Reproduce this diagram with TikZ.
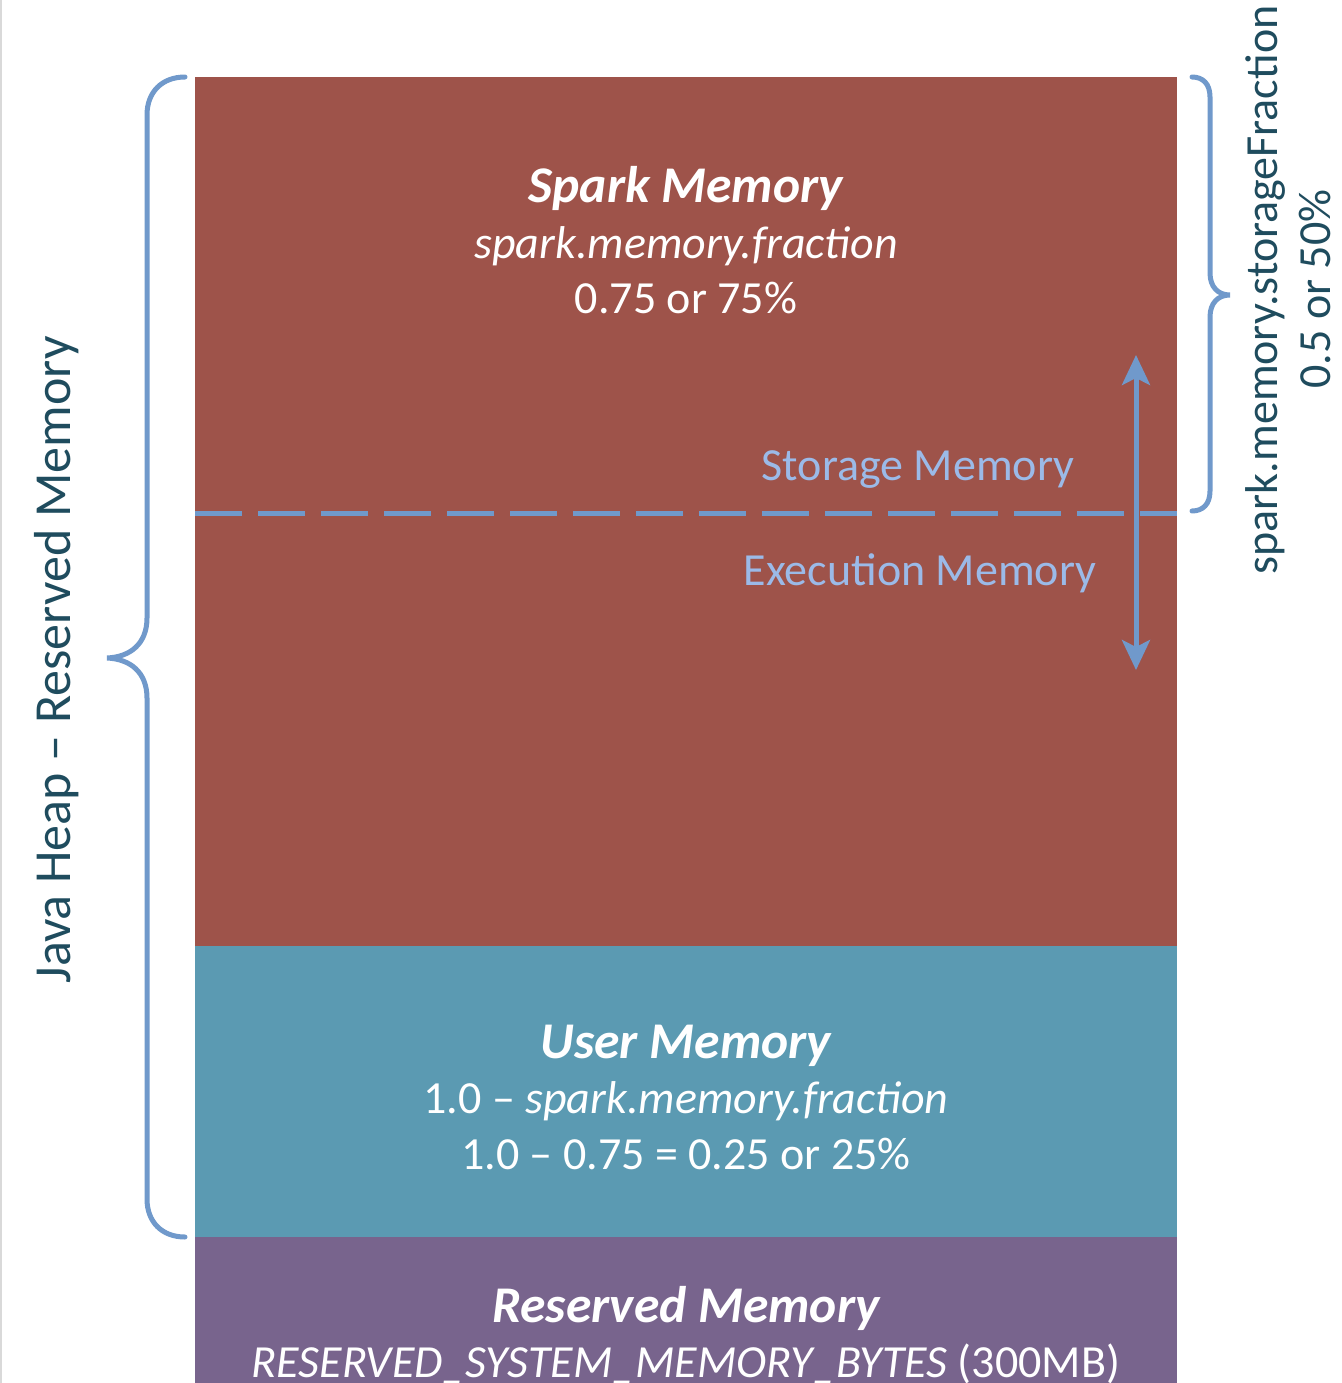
\documentclass[tikz,border=0pt]{standalone}
\usepackage{fontspec}
\setmainfont{Carlito}
\usetikzlibrary{arrows.meta}
\definecolor{sparkred}{HTML}{9E534A}
\definecolor{userteal}{HTML}{5B9AB2}
\definecolor{respurple}{HTML}{78648D}
\definecolor{bracecol}{HTML}{7099CB}
\definecolor{lighttext}{HTML}{9BBAE8}
\definecolor{darktext}{HTML}{1F4C5E}
\tikzset{
  block/.style={draw=none, minimum width=982pt, anchor=north west, inner sep=0pt, outer sep=0pt},
  wtext/.style={text=white, font=\fontsize{46}{55}\selectfont, inner sep=0pt, anchor=base},
  wtitle/.style={text=white, font=\fontsize{51.5}{60}\selectfont\bfseries\itshape, inner sep=0pt, anchor=base},
  ltext/.style={text=lighttext, font=\fontsize{46}{55}\selectfont, inner sep=0pt, anchor=base},
  dtext/.style={text=darktext, font=\fontsize{52}{60}\selectfont, inner sep=0pt, anchor=base, rotate=90},
  dtextr/.style={text=darktext, font=\fontsize{46}{55}\selectfont, inner sep=0pt, anchor=base, rotate=90},
  bracepath/.style={draw=bracecol, line width=5pt, line cap=round},
  divider/.style={draw=bracecol, line width=5pt, dash pattern=on 47pt off 16pt},
  moveline/.style={draw=bracecol, line width=5pt, {Stealth[length=30pt,width=28pt,inset=7pt]}-{Stealth[length=30pt,width=28pt,inset=7pt]}}
}
\begin{document}
\begin{tikzpicture}[x=1pt,y=-1pt]
\useasboundingbox (0,0) rectangle (1341,1383);
\fill[white] (0,0) rectangle (1341,1383);
\draw[black!15, line width=2pt] (1,0) -- (1,1383);

% blocks
\node[block, fill=sparkred, minimum height=869pt] (spark) at (195,77) {};
\node[block, fill=userteal, minimum height=291pt] (user) at (195,946) {};
\node[block, fill=respurple, minimum height=146pt] (reserved) at (195,1237) {};

% spark memory texts
\node[wtitle] (sparkT) at (686,203) {Spark Memory};
\node[wtext] (sparkF) at (686,258) {\itshape spark.memory.fraction};
\node[wtext] (sparkP) at (686,313) {0.75 or 75\%};

% user memory texts
\node[wtitle] (userT) at (686,1058) {User Memory};
\node[wtext] (userF) at (686,1113) {1.0 \textendash{} \textit{spark.memory.fraction}};
\node[wtext] (userP) at (686,1169) {1.0 \textendash{} 0.75 = 0.25 or 25\%};

% reserved memory texts
\node[wtitle] (resT) at (686,1322) {Reserved Memory};
\node[wtext] (resF) at (686,1377) {\textit{RESERVED\_SYSTEM\_MEMORY\_BYTES} (300MB)};

% divider
\coordinate (divL) at (195,513);
\coordinate (divR) at (1177,513);
\draw[divider] (divL) -- (divR);

% storage / execution
\node[ltext] (stor) at (918,480) {Storage Memory};
\node[ltext] (exec) at (920,585) {Execution Memory};

% double arrow
\coordinate (atop) at (1136,355);
\coordinate (abot) at (1136,670);
\draw[moveline] (abot) -- (atop);

% left brace
\draw[bracepath] (185,77) .. controls (162,77) and (147,92) .. (147,115)
  -- (147,618) .. controls (147,644) and (130,657) .. (107,658)
  .. controls (130,659) and (147,672) .. (147,698)
  -- (147,1199) .. controls (147,1222) and (162,1237) .. (185,1237);

% right brace
\draw[bracepath] (1192,77) .. controls (1203,77) and (1210,84) .. (1210,97)
  -- (1210,273) .. controls (1210,287) and (1218,295) .. (1230,295)
  .. controls (1218,295) and (1210,303) .. (1210,317)
  -- (1210,491) .. controls (1210,504) and (1203,511) .. (1192,511);

% rotated labels
\node[dtext] (heap) at (70,660) {Java Heap \textendash{} Reserved Memory};
\node[dtextr] (sfrac) at (1277,290) {spark.memory.storageFraction};
\node[dtextr] (sfracP) at (1330,289) {0.5 or 50\%};
\end{tikzpicture}
\end{document}
